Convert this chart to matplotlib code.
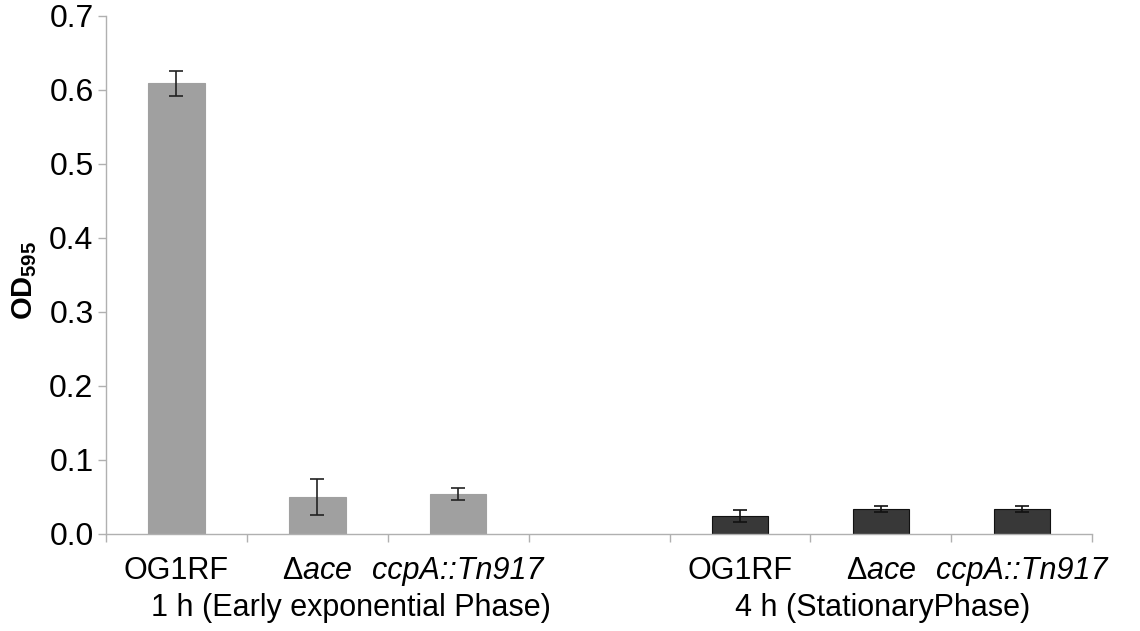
import matplotlib
matplotlib.use("Agg")
import matplotlib.pyplot as plt
import numpy as np

plt.rcParams['font.family'] = ['Liberation Sans', 'DejaVu Sans']
plt.rcParams['mathtext.fontset'] = 'custom'
plt.rcParams['mathtext.rm'] = 'Liberation Sans'
plt.rcParams['mathtext.it'] = 'Liberation Sans:italic'
plt.rcParams['mathtext.bf'] = 'Liberation Sans:bold'

# Data
strains = ["OG1RF", r"$\mathrm{Δ}\mathit{ace}$", "ccpA::Tn917"]
groups = ["1 h (Early exponential Phase)", "4 h (StationaryPhase)"]
od_1h = [0.609, 0.050, 0.054]
err_1h = [0.017, 0.024, 0.008]
od_4h = [0.024, 0.034, 0.034]
err_4h = [0.008, 0.004, 0.004]
yticks = [0.0, 0.1, 0.2, 0.3, 0.4, 0.5, 0.6, 0.7]

fig = plt.figure(figsize=(11.4, 6.31), dpi=100)
ax = fig.add_axes([0.093, 0.154, 0.865, 0.821])

x1 = np.arange(3)
x2 = np.arange(3) + 4
w = 0.40
ax.bar(x1, od_1h, width=w, color='#a0a0a0', edgecolor='#a0a0a0', linewidth=0.8,
       yerr=err_1h, error_kw=dict(ecolor='#222222', elinewidth=1.2, capsize=5, capthick=1.2), zorder=2)
ax.bar(x2, od_4h, width=w, color='#383838', edgecolor='#111111', linewidth=0.8,
       yerr=err_4h, error_kw=dict(ecolor='#111111', elinewidth=1.2, capsize=5, capthick=1.2), zorder=2)

ax.set_xlim(-0.5, 6.5)
ax.set_ylim(0, 0.7)
ax.set_yticks(yticks)
ax.set_yticklabels([f"{v:.1f}" for v in yticks])

ticks = list(x1) + list(x2)
ax.set_xticks(ticks)
labels = strains + strains
ax.set_xticklabels(labels)
for i, t in enumerate(ax.get_xticklabels()):
    if i % 3 == 2:
        t.set_fontstyle('italic')
ax.set_xticks(np.arange(-0.5, 7.0, 1.0), minor=True)
ax.tick_params(axis='x', which='major', length=0, labelsize=22, pad=16)
ax.tick_params(axis='x', which='minor', length=6, color='#b0b0b0', width=1)
ax.tick_params(axis='y', which='major', length=6, color='#b0b0b0', width=1, labelsize=23, pad=3)

for s in ['top', 'right']:
    ax.spines[s].set_visible(False)
for s in ['left', 'bottom']:
    ax.spines[s].set_color('#b0b0b0')
    ax.spines[s].set_linewidth(1)

ax.text(1.24, -0.1, groups[0], ha='center', va='center', fontsize=22,
        transform=ax.transData, clip_on=False)
ax.text(5.01, -0.1, groups[1], ha='center', va='center', fontsize=22,
        transform=ax.transData, clip_on=False)

fig.text(0.022, 0.556, r"$\mathbf{OD}_{\mathbf{595}}$", rotation=90, ha='center', va='center',
         fontsize=21)

fig.savefig("out.png", dpi=100)
